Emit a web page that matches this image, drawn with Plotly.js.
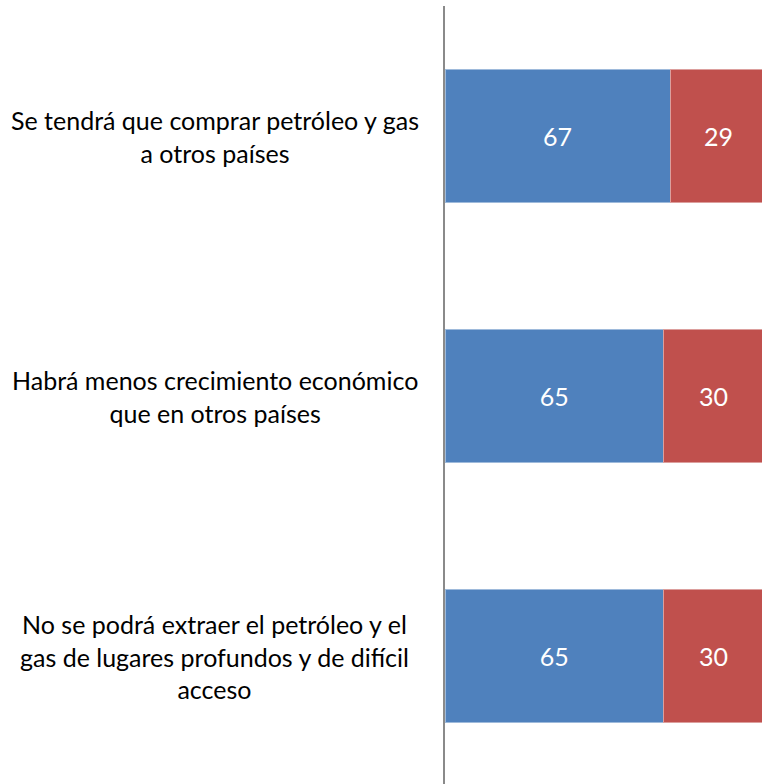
<!DOCTYPE html>
<html>
<head>
<meta charset="utf-8">
<script src="https://cdn.plot.ly/plotly-3.0.1.min.js"></script>
<style>html,body{margin:0;padding:0;background:#fff;}#chart{width:762px;height:784px;}</style>
</head>
<body>
<div id="chart"></div>
<script>
var categories = [
  "Se tendrá que comprar petróleo y gas<br>a otros países",
  "Habrá menos crecimiento económico<br>que en otros países",
  "No se podrá extraer el petróleo y el<br>gas de lugares profundos y de difícil<br>acceso"
];
var seriesBlue = [67, 65, 65];
var seriesRed = [29, 30, 30];

var font = "Lato, 'Open Sans', sans-serif";

var traces = [
  {
    type: 'bar', orientation: 'h', y: categories, x: seriesBlue,
    text: seriesBlue.map(String), textposition: 'inside', insidetextanchor: 'middle',
    textfont: {color: '#ffffff', size: 25, family: font},
    marker: {color: '#4F81BD', line: {color: 'rgba(255,255,255,0.45)', width: 1}},
    hoverinfo: 'skip'
  },
  {
    type: 'bar', orientation: 'h', y: categories, x: seriesRed,
    textposition: 'none',
    marker: {color: '#C0504D', line: {color: 'rgba(255,255,255,0.45)', width: 1}},
    hoverinfo: 'skip'
  }
];

var annotations = categories.map(function (c) {
  return {
    xref: 'paper', yref: 'y', x: -0.7256, y: c, xanchor: 'center', yanchor: 'middle',
    text: c, showarrow: false, align: 'center',
    font: {family: font, size: 25, color: '#000000'}
  };
});
categories.forEach(function (c, i) {
  annotations.push({
    xref: 'x', yref: 'y', x: seriesBlue[i] + seriesRed[i] / 2, y: c,
    xanchor: 'center', yanchor: 'middle', text: String(seriesRed[i]), showarrow: false,
    font: {family: font, size: 25, color: '#ffffff'}
  });
});

var layout = {
  width: 762, height: 784,
  margin: {l: 445, r: 0, t: 6, b: 0, pad: 0},
  barmode: 'stack', bargap: 0.487,
  showlegend: false,
  paper_bgcolor: '#ffffff', plot_bgcolor: '#ffffff',
  font: {family: font},
  xaxis: {range: [0, 94.35], showgrid: false, zeroline: false, showticklabels: false, showline: false, ticks: ''},
  yaxis: {type: 'category', range: [2.492, -0.5], showgrid: false, zeroline: false, showticklabels: false,
          showline: true, linecolor: '#8a8a8a', linewidth: 2, ticks: ''},
  annotations: annotations
};

Plotly.newPlot('chart', traces, layout, {displayModeBar: false, staticPlot: true});
</script>
</body>
</html>
